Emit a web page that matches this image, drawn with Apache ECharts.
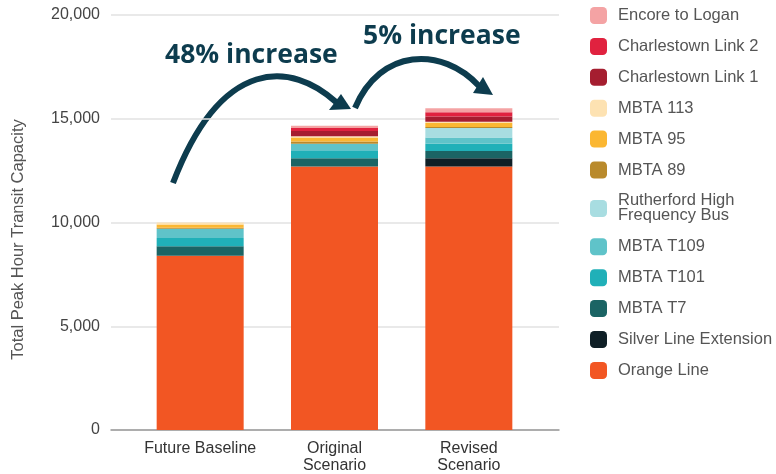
<!DOCTYPE html>
<html>
<head>
<meta charset="utf-8">
<script src="https://cdn.jsdelivr.net/npm/echarts@6/dist/echarts.min.js"></script>
<style>
  html, body { margin: 0; padding: 0; background: #fff; }
  #main { width: 776px; height: 474px; }
</style>
</head>
<body>
<div id="main"></div>
<script>
// scenarios along the x axis
const scenarios = ['Future Baseline', 'Original\nScenario', 'Revised\nScenario'];

// capacity per service, bottom of the stack first
const orangeLine = [8400, 12700, 12700];
const silverLine = [0, 0, 400];
const mbtaT7 = [450, 400, 350];
const mbtaT101 = [400, 350, 350];
const mbtaT109 = [450, 350, 300];
const rutherford = [0, 0, 450];
const mbta89 = [50, 100, 50];
const mbta95 = [150, 200, 200];
const mbta113 = [100, 60, 60];
const charlestown1 = [0, 250, 250];
const charlestown2 = [0, 150, 200];
const encoreLogan = [0, 100, 200];

const yTicks = [0, 5000, 10000, 15000, 20000];

const services = [
    { name: 'Orange Line', data: orangeLine, color: '#f25623' },
    { name: 'Silver Line Extension', data: silverLine, color: '#0f1f26' },
    { name: 'MBTA T7', data: mbtaT7, color: '#1b6464' },
    { name: 'MBTA T101', data: mbtaT101, color: '#20b0b8' },
    { name: 'MBTA T109', data: mbtaT109, color: '#5fc3c9' },
    { name: 'Rutherford High\nFrequency Bus', data: rutherford, color: '#a8dde1' },
    { name: 'MBTA 89', data: mbta89, color: '#b98a2c' },
    { name: 'MBTA 95', data: mbta95, color: '#fbb732' },
    { name: 'MBTA 113', data: mbta113, color: '#fde2b2' },
    { name: 'Charlestown Link 1', data: charlestown1, color: '#a51e30' },
    { name: 'Charlestown Link 2', data: charlestown2, color: '#e0223f' },
    { name: 'Encore to Logan', data: encoreLogan, color: '#f4a3a4' }
];

const labelFont = '"Liberation Sans", Arial, sans-serif';
const noteColor = '#0d3c4e';
const noteFont = 'bold 26.5px "Open Sans", sans-serif';

let plot = echarts.init(document.querySelector('#main'));

const option = {
    animation: false,
    textStyle: { fontFamily: labelFont },
    legend: {
        orient: 'vertical',
        left: 590,
        top: 7,
        padding: 0,
        itemWidth: 17,
        itemHeight: 17,
        itemGap: 13.9,
        icon: 'roundRect',
        textStyle: { fontSize: 16.5, color: '#555', lineHeight: 15, padding: [0, 0, 0, 6] },
        data: services.map(s => s.name).reverse()
    },
    grid: [
        // wide grid: gridlines, y labels and the baseline
        { left: 111, right: 217, top: 15, bottom: 44 },
        // narrower grid holding the bars
        { left: 133, right: 240, top: 15, bottom: 44 }
    ],
    xAxis: [
        {
            gridIndex: 0, type: 'value', min: 0, max: 1,
            axisLine: { show: true, onZero: false, lineStyle: { color: '#999', width: 1.5 } },
            axisTick: { show: false }, axisLabel: { show: false }, splitLine: { show: false }
        },
        {
            gridIndex: 1, type: 'category', data: scenarios,
            axisLine: { show: false }, axisTick: { show: false },
            axisLabel: { color: '#333', fontSize: 16, lineHeight: 17, margin: 10, interval: 0 }
        }
    ],
    yAxis: [
        {
            gridIndex: 0, type: 'value', min: 0, max: 20000, interval: 5000,
            name: 'Total Peak Hour Transit Capacity',
            nameLocation: 'middle', nameGap: 84,
            nameTextStyle: { color: '#555', fontSize: 16.5, padding: [0, 0, 0, -34] },
            axisLine: { show: false },
            axisTick: { show: false },
            axisLabel: {
                color: '#444', fontSize: 16, margin: 11,
                formatter: v => yTicks.includes(v) ? v.toLocaleString('en-US') : ''
            },
            splitLine: { lineStyle: { color: '#e2e2e2', width: 1.5 } }
        },
        {
            gridIndex: 1, type: 'value', min: 0, max: 20000, show: false, splitLine: { show: false }
        }
    ],
    series: services.map(s => ({
        name: s.name,
        type: 'bar',
        stack: 'capacity',
        xAxisIndex: 1,
        yAxisIndex: 1,
        barWidth: 87,
        itemStyle: { color: s.color },
        data: s.data
    })),
    graphic: [
        {
            type: 'text', left: 165, top: 42,
            style: { text: '48% increase', fill: noteColor, font: noteFont }
        },
        {
            type: 'text', left: 363, top: 23,
            style: { text: '5% increase', fill: noteColor, font: noteFont }
        },
        {
            type: 'bezierCurve',
            shape: { x1: 173, y1: 183, cpx1: 222, cpy1: 55, cpx2: 292, cpy2: 62, x2: 336, y2: 102 },
            style: { stroke: noteColor, lineWidth: 6, fill: null }
        },
        {
            type: 'polygon',
            shape: { points: [[329, 110], [341, 94], [351, 109]] },
            style: { fill: noteColor }
        },
        {
            type: 'bezierCurve',
            shape: { x1: 355, y1: 108, cpx1: 380, cpy1: 48, cpx2: 442, cpy2: 46, x2: 479, y2: 86 },
            style: { stroke: noteColor, lineWidth: 6, fill: null }
        },
        {
            type: 'polygon',
            shape: { points: [[473, 93], [483, 77], [493, 95]] },
            style: { fill: noteColor }
        }
    ]
};

plot.setOption(option);
</script>
</body>
</html>
